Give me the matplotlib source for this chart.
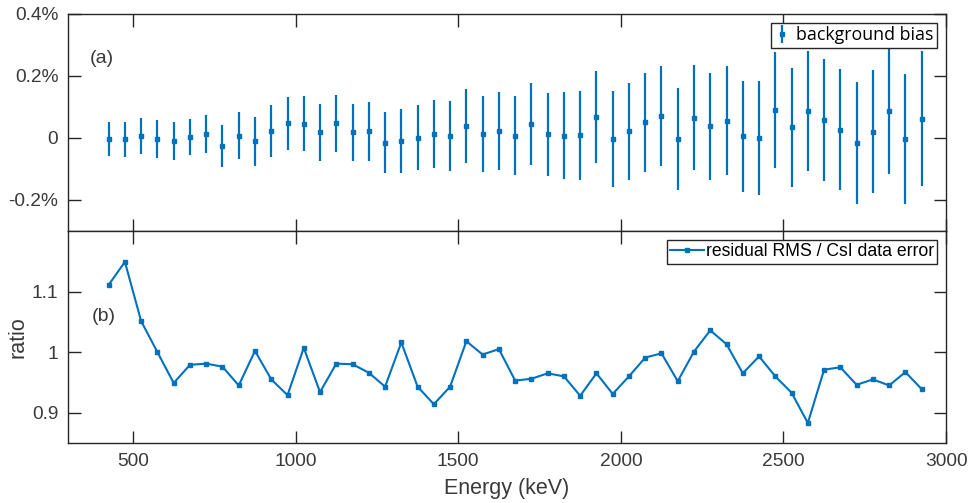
import matplotlib.pyplot as plt
import numpy as np
from matplotlib.ticker import FuncFormatter

# energy bin centres (keV)
energy = np.arange(425, 2926, 50)

# panel (a): background bias in percent, with 1-sigma errors
bias = [-0.002, -0.004, 0.006, -0.003, -0.009, 0.003, 0.014, -0.026, 0.008, -0.011,
        0.022, 0.047, 0.046, 0.018, 0.047, 0.018, 0.022, -0.015, -0.010, 0.001,
        0.012, 0.006, 0.039, 0.012, 0.023, 0.008, 0.045, 0.012, 0.008, 0.009,
        0.068, -0.004, 0.022, 0.051, 0.070, -0.003, 0.066, 0.038, 0.056, 0.005,
        0.000, 0.090, 0.035, 0.087, 0.057, 0.027, -0.016, 0.020, 0.086, -0.003,
        0.062]
bias_err = [0.055, 0.056, 0.057, 0.061, 0.061, 0.058, 0.061, 0.069, 0.075, 0.080,
            0.083, 0.086, 0.089, 0.092, 0.093, 0.093, 0.095, 0.098, 0.102, 0.105,
            0.109, 0.113, 0.119, 0.123, 0.125, 0.128, 0.132, 0.134, 0.139, 0.144,
            0.148, 0.154, 0.156, 0.160, 0.162, 0.165, 0.169, 0.173, 0.176, 0.180,
            0.185, 0.188, 0.192, 0.195, 0.197, 0.195, 0.196, 0.199, 0.203, 0.211,
            0.217]

# panel (b): residual RMS / CsI data error
ratio = [1.111, 1.149, 1.051, 1.000, 0.949, 0.979, 0.981, 0.976, 0.945, 1.002,
         0.955, 0.929, 1.007, 0.934, 0.981, 0.980, 0.966, 0.943, 1.016, 0.943,
         0.914, 0.943, 1.018, 0.996, 1.005, 0.953, 0.956, 0.965, 0.960, 0.928,
         0.965, 0.931, 0.960, 0.991, 0.998, 0.952, 1.001, 1.036, 1.013, 0.965,
         0.993, 0.960, 0.933, 0.883, 0.971, 0.975, 0.946, 0.955, 0.945, 0.967,
         0.939]

blue = "#0072BD"
dark = "#262626"
grey = "#3a3a3a"

plt.rcParams["font.family"] = ["Liberation Sans", "DejaVu Sans"]
plt.rcParams["axes.linewidth"] = 1.0

fig = plt.figure(figsize=(9.7, 5.03), dpi=100)
ax1 = fig.add_axes([0.0701, 0.5408, 0.9052, 0.4314])
ax2 = fig.add_axes([0.0701, 0.1193, 0.9052, 0.4215])

ax1.errorbar(energy, bias, yerr=bias_err, fmt="s", color=blue, ms=3.2,
             elinewidth=1.6, capsize=0, label="background bias")
ax1.set_ylim(-0.3, 0.4)
ax1.set_yticks([-0.2, 0, 0.2, 0.4])
ax1.yaxis.set_major_formatter(FuncFormatter(lambda v, _: "0" if abs(v) < 1e-9 else f"{v:.1f}%"))
ax1.text(368, 0.257, "(a)", fontsize=14, color=grey, va="center")
leg1 = ax1.legend(loc="upper right", fancybox=False, framealpha=1, edgecolor=dark,
                  borderpad=0.2, handlelength=0.8, handletextpad=0.4,
                  borderaxespad=0.5, prop={"family": "Open Sans", "size": 12.8})
leg1.get_frame().set_linewidth(1.0)

ax2.plot(energy, ratio, "-s", color=blue, ms=2.5, lw=1.5,
         label="residual RMS / CsI data error")
ax2.set_ylim(0.85, 1.2)
ax2.set_yticks([0.9, 1.0, 1.1])
ax2.yaxis.set_major_formatter(FuncFormatter(lambda v, _: f"{v:g}"))
ax2.set_ylabel("ratio", fontsize=15.5, color=grey, labelpad=2)
ax2.set_xlabel("Energy (keV)", fontsize=15.5, color=grey, labelpad=6)
ax2.text(373, 1.058, "(b)", fontsize=14, color=grey, va="center")
leg2 = ax2.legend(loc="upper right", fancybox=False, framealpha=1, edgecolor=dark,
                  borderpad=0.2, handlelength=1.9, handletextpad=0.1,
                  borderaxespad=0.5, fontsize=12.7)
leg2.get_frame().set_linewidth(1.0)

for ax in (ax1, ax2):
    ax.set_xlim(300, 3000)
    ax.set_xticks(np.arange(500, 3001, 500))
    ax.tick_params(direction="in", top=True, right=True, length=9, width=1.0,
                   color=dark, labelcolor=grey, labelsize=13.8, pad=7)
    for s in ax.spines.values():
        s.set_color(dark)
ax1.tick_params(labelbottom=False)

fig.savefig("out.png", dpi=100)
